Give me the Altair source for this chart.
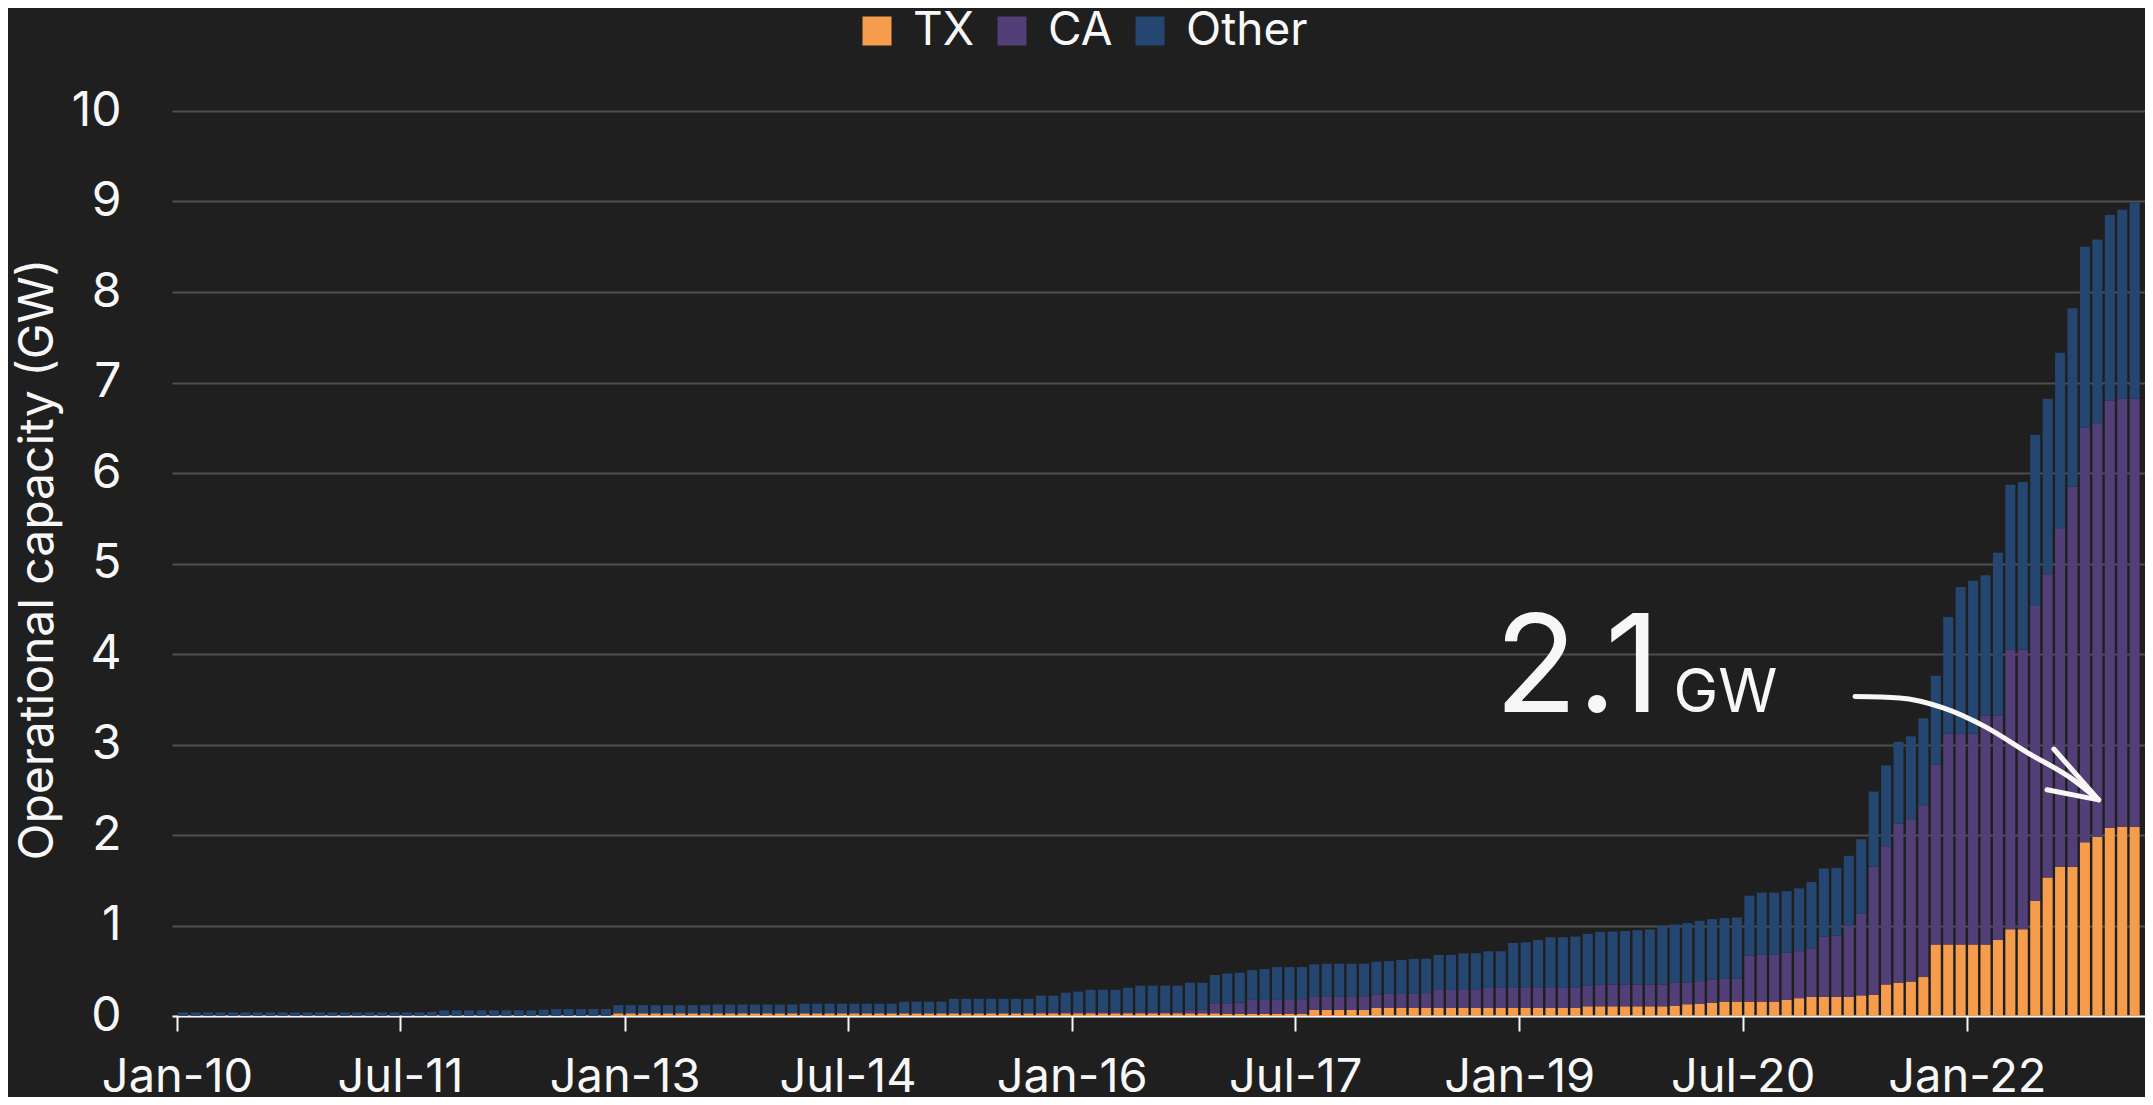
import altair as alt
import pandas as pd

# ---- data (GW), monthly Jan-2010 .. Feb-2023 ----
TX = (
    [0.0] * 12 +
    [0.0] * 12 +
    [0.0] * 11 + [0.03] +
    [0.03] * 12 +
    [0.03] * 12 +
    [0.03] * 12 +
    [0.03] * 12 +
    [0.026] * 7 + [0.067] * 5 +
    [0.089] * 12 +
    [0.089] * 5 + [0.107] * 7 +
    [0.115, 0.13, 0.133, 0.144, 0.159, 0.159, 0.159, 0.159, 0.159, 0.178, 0.197, 0.21] +
    [0.21, 0.21, 0.21, 0.228, 0.235, 0.349, 0.368, 0.38, 0.43, 0.79, 0.79, 0.79] +
    [0.79, 0.79, 0.843, 0.958, 0.958, 1.27, 1.53, 1.65, 1.65, 1.92, 1.98, 2.08] +
    [2.09, 2.09]
)
CA = (
    [0.0] * 12 +
    [0.0] * 12 +
    [0.0] * 12 +
    [0.0] * 12 +
    [0.0] * 12 +
    [0.0] * 9 + [0.015, 0.015, 0.015] +
    [0.015, 0.015, 0.015, 0.015, 0.018, 0.02, 0.02, 0.02, 0.02, 0.04, 0.04, 0.11] +
    [0.114, 0.122, 0.152, 0.152, 0.152, 0.159, 0.159, 0.144, 0.144, 0.144, 0.152, 0.152] +
    [0.144, 0.155, 0.155, 0.155, 0.163, 0.20, 0.20, 0.20, 0.20, 0.222, 0.222, 0.222] +
    [0.222, 0.222, 0.222, 0.222, 0.222, 0.226, 0.237, 0.241, 0.241, 0.241, 0.241, 0.241] +
    [0.252, 0.237, 0.252, 0.256, 0.252, 0.252, 0.507, 0.521, 0.521, 0.522, 0.52, 0.538] +
    [0.665, 0.678, 0.79, 0.902, 1.415, 1.528, 1.756, 1.795, 1.90, 1.99, 2.33, 2.33] +
    [2.33, 2.53, 2.477, 3.092, 3.092, 3.26, 3.35, 3.73, 4.20, 4.58, 4.57, 4.72] +
    [4.73, 4.73]
)
OTHER = (
    [0.04] * 12 +
    [0.04] * 8 + [0.045, 0.063, 0.063, 0.063] +
    [0.063] * 5 + [0.07] + [0.077] * 5 + [0.09] +
    [0.09] * 7 + [0.097] * 5 +
    [0.097, 0.097] + [0.106] * 8 + [0.128, 0.128] +
    [0.128, 0.128] + [0.16] * 7 + [0.18, 0.18, 0.213] +
    [0.225, 0.245, 0.245, 0.245, 0.265, 0.285, 0.285, 0.285, 0.285, 0.298, 0.298, 0.313] +
    [0.33, 0.33, 0.329, 0.341, 0.362, 0.355, 0.355, 0.359, 0.367, 0.367, 0.359, 0.359] +
    [0.367, 0.363, 0.375, 0.386, 0.381, 0.385, 0.385, 0.404, 0.404, 0.404, 0.404, 0.496] +
    [0.504, 0.529, 0.559, 0.559, 0.567, 0.574, 0.586, 0.585, 0.592, 0.60, 0.608, 0.648] +
    [0.644, 0.659, 0.667, 0.67, 0.67, 0.678, 0.664, 0.683, 0.683, 0.68, 0.693, 0.732] +
    [0.755, 0.748, 0.77, 0.823, 0.83, 0.893, 0.906, 0.915, 0.96, 0.98, 1.29, 1.62] +
    [1.69, 1.55, 1.80, 1.82, 1.85, 1.89, 1.94, 1.95, 1.97, 2.00, 2.03, 2.05] +
    [2.09, 2.17]
)
SERIES = ["TX", "CA", "Other"]
COLORS = ["#F59D4C", "#523F78", "#244670"]
TICK_DATES = [(2010, 1), (2011, 7), (2013, 1), (2014, 7), (2016, 1),
              (2017, 7), (2019, 1), (2020, 7), (2022, 1)]

# annotation: arrow path in (month index from Jan-2010, GW)
ARROW_M = [135.0, 138.6, 142.1, 145.5, 148.9, 152.35, 154.6]
ARROW_V = [3.53, 3.515, 3.405, 3.195, 2.908, 2.631, 2.388]
BARB_M = [151.0, 154.6, 150.45]
BARB_V = [2.95, 2.388, 2.5]
LABEL_BIG = "2.1"
LABEL_UNIT = "GW"
LABEL_POS = [(106.0, 3.364), (120.4, 3.364)]

N = len(TX)
start = pd.Timestamp("2010-01-01")


def mdate(m):
    return start + pd.Timedelta(days=m * 30.4375)


rows = []
for i in range(N):
    for k, (name, vals) in enumerate(zip(SERIES, [TX, CA, OTHER])):
        rows.append({"date": mdate(i + 0.5), "series": name, "order": k, "value": vals[i]})
df = pd.DataFrame(rows)

bg = "#1F1F1F"
fg = "#F7F7F7"
font = "Inter"

x_scale = alt.Scale(domain=[alt.DateTime(year=2010, month=1, date=1),
                            alt.DateTime(year=2023, month=3, date=1)])
y_scale = alt.Scale(domain=[0, 10], nice=False)

bars = alt.Chart(df).mark_bar(size=10).encode(
    x=alt.X("date:T", scale=x_scale,
            axis=alt.Axis(values=[alt.DateTime(year=y, month=m, date=1) for y, m in TICK_DATES],
                          format="%b-%y", title=None, grid=False,
                          labelFontSize=47, labelColor=fg, labelFont=font,
                          labelPadding=23, tickSize=15, tickWidth=2, tickColor=fg,
                          domainColor=fg, domainWidth=2, labelFlush=False)),
    y=alt.Y("value:Q", stack="zero", scale=y_scale,
            axis=alt.Axis(values=list(range(0, 11)), format="d",
                          title="Operational capacity (GW)",
                          titleFontSize=48, titleFont=font, titleColor=fg,
                          titleFontWeight="normal", titleAngle=270,
                          titleX=-120, titleY=448, titleAlign="center",
                          titleBaseline="alphabetic",
                          labelFontSize=48, labelColor=fg, labelFont=font,
                          labelPadding=51, ticks=False, tickSize=0, domain=False,
                          grid=True, gridColor="#4F4F4F", gridWidth=2)),
    color=alt.Color("series:N", scale=alt.Scale(domain=SERIES, range=COLORS),
                    legend=alt.Legend(orient="none", direction="horizontal",
                                      legendX=682, legendY=-103, title=None,
                                      symbolType="square", symbolSize=841,
                                      symbolStrokeWidth=0, labelFontSize=46,
                                      labelFont=font, labelColor=fg, labelOffset=13,
                                      columnPadding=14, padding=0)),
    order=alt.Order("order:Q", sort="ascending"),
)

arrow_df = pd.DataFrame({"date": [mdate(m) for m in ARROW_M], "value": ARROW_V,
                         "i": list(range(len(ARROW_M)))})
barb_df = pd.DataFrame({"date": [mdate(m) for m in BARB_M], "value": BARB_V,
                        "i": list(range(len(BARB_M)))})

arrow = alt.Chart(arrow_df).mark_line(color=fg, strokeWidth=5, strokeCap="round",
                                      interpolate="monotone").encode(
    x=alt.X("date:T", scale=x_scale), y=alt.Y("value:Q", scale=y_scale), order="i:Q")
barb = alt.Chart(barb_df).mark_line(color=fg, strokeWidth=5, strokeCap="round",
                                    strokeJoin="round").encode(
    x=alt.X("date:T", scale=x_scale), y=alt.Y("value:Q", scale=y_scale), order="i:Q")

text_df = pd.DataFrame({
    "date": [mdate(p[0]) for p in LABEL_POS],
    "value": [p[1] for p in LABEL_POS],
    "label": [LABEL_BIG, LABEL_UNIT],
})
big = alt.Chart(text_df.iloc[[0]]).mark_text(align="left", baseline="alphabetic",
                                             fontSize=136, font=font, color=fg).encode(
    x=alt.X("date:T", scale=x_scale), y=alt.Y("value:Q", scale=y_scale), text="label:N")
unit = alt.Chart(text_df.iloc[[1]]).mark_text(align="left", baseline="alphabetic",
                                              fontSize=60, font=font, color=fg).encode(
    x=alt.X("date:T", scale=x_scale), y=alt.Y("value:Q", scale=y_scale), text="label:N")

chart = alt.layer(bars, arrow, barb, big, unit).properties(
    width=1973, height=905,
    autosize=alt.AutoSizeParams(type="none"),
    padding={"left": 164, "top": 103, "right": 0, "bottom": 81},
    background=bg,
).configure_view(stroke=None)

chart.save("out.html", embed_options={"renderer": "svg", "actions": False})
